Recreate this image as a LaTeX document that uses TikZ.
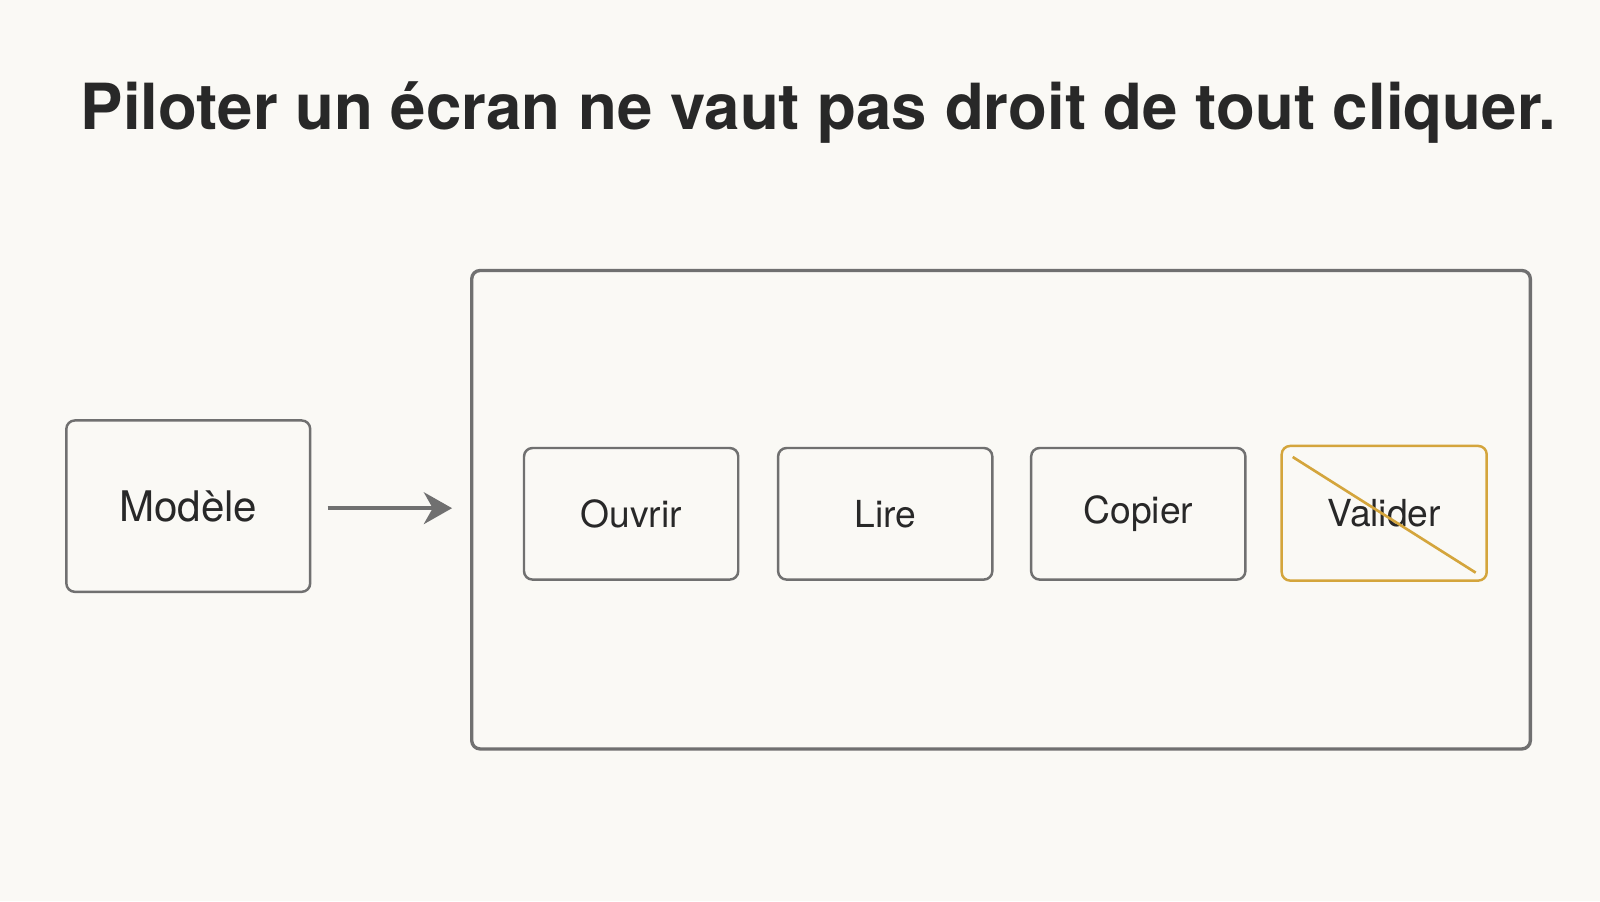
\documentclass[tikz,border=0pt]{standalone}
\usepackage{fontspec}
\setmainfont{TeX Gyre Heros}
\usetikzlibrary{calc,arrows.meta,positioning}
\definecolor{mybg}{RGB}{250, 249, 245}
\definecolor{mygray}{RGB}{112, 112, 112}
\definecolor{myink}{RGB}{40, 40, 40}
\definecolor{mygold}{RGB}{212, 165, 60}
\tikzset{>=latex}
\tikzset{
  box/.style = {draw = mygray, line width = 0.7pt, rounded corners = 2.4pt, text = myink,
    minimum width = 2.143cm, minimum height = 1.316cm, font = \fontsize{10.6pt}{12pt}\selectfont},
  crossed/.style = {box, draw = mygold}
}

\begin{document}
\begin{tikzpicture}[x = 0.010204cm, y = -0.010204cm]
\fill[mybg] (0,0) rectangle (1568,883);
\useasboundingbox (0,0) rectangle (1568,883);
\node[text = myink, font = \fontsize{18.1pt}{22pt}\selectfont\bfseries] (title) at (802, 110) {Piloter un écran ne vaut pas droit de tout cliquer.};
\node[box, minimum width = 2.439cm, minimum height = 1.714cm, font = \fontsize{12pt}{14pt}\selectfont] (modele) at (184.5, 496) {Modèle};
\node[draw = mygray, line width = 0.95pt, rounded corners = 2.4pt, minimum width = 10.59cm, minimum height = 4.786cm] (ecran) at (981, 499.5) {};
\node[box] (ouvrir) at (618.5, 503.5) {Ouvrir};
\node[box] (lire) at (867.5, 503.5) {Lire};
\node[box] (copier) at (1115.5, 503.5) {Copier};
\node[crossed, minimum width = 2.051cm, minimum height = 1.347cm] (valider) at (1356.5, 503) {Valider};
\coordinate (arrowend) at (443, 498);
\draw[mygray, line width = 1.3pt, -{Stealth[length = 8pt, width = 9pt, inset = 2.5pt]}] (modele.east) ++(16, 2) -- (arrowend);
\draw[mygold, line width = 0.75pt] ($(valider.north west) + (12, 12)$) -- ($(valider.south east) + (-12, -9)$);
\end{tikzpicture}
\end{document}
